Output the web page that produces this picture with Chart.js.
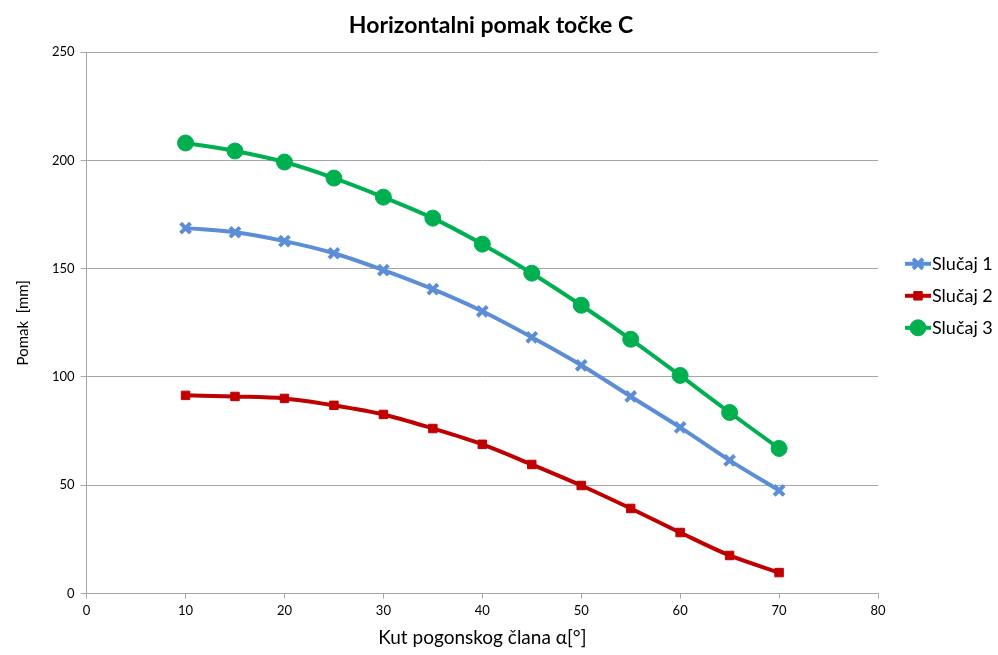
<!DOCTYPE html>
<html>
<head>
<meta charset="utf-8">
<script src="https://cdn.jsdelivr.net/npm/chart.js@4.4.1/dist/chart.umd.min.js"></script>
<style>
  html, body { margin: 0; padding: 0; background: #fff; }
  #wrap { width: 998px; height: 655px; }
</style>
</head>
<body>
<div id="wrap"><canvas id="myChart"></canvas></div>
<script>
// angle of the driving member (deg)
const kut = [10, 15, 20, 25, 30, 35, 40, 45, 50, 55, 60, 65, 70];
// horizontal displacement of point C (mm)
const slucaj1 = [168.7, 166.8, 162.7, 157.1, 149.3, 140.5, 130.3, 118.3, 105.4, 91.0, 76.7, 61.5, 47.6];
const slucaj2 = [91.5, 91.0, 90.1, 86.9, 82.7, 76.2, 68.9, 59.6, 49.9, 39.3, 28.2, 17.6, 9.7];
const slucaj3 = [208.0, 204.3, 199.2, 191.8, 183.0, 173.3, 161.3, 147.9, 133.1, 117.4, 100.7, 83.6, 67.0];
const seriesNames = ['Slučaj 1', 'Slučaj 2', 'Slučaj 3'];
const chartTitle = 'Horizontalni pomak točke C';

function pts(vals) {
    return kut.map((k, i) => ({x: k, y: vals[i]}));
}

const FONT = 'Lato, "Open Sans", sans-serif';

// title + excel-like legend (short line + marker + text) drawn by hand
const sideLegend = {
    id: 'sideLegend',
    afterDraw(chart) {
        const ctx = chart.ctx;
        const area = chart.chartArea;
        ctx.save();
        ctx.fillStyle = '#000';
        ctx.font = 'bold 23px ' + FONT;
        ctx.textAlign = 'center';
        ctx.textBaseline = 'middle';
        ctx.fillText(chartTitle, 491, 26);

        const x0 = area.right + 27;
        const yMid = (area.top + area.bottom) / 2;
        const gap = 32;
        const n = chart.data.datasets.length;
        ctx.textAlign = 'left';
        chart.data.datasets.forEach((ds, i) => {
            const y = yMid - 27 + (i - (n - 1) / 2) * gap;
            ctx.strokeStyle = ds.borderColor;
            ctx.lineWidth = ds.borderWidth;
            ctx.beginPath();
            ctx.moveTo(x0, y);
            ctx.lineTo(x0 + 26, y);
            ctx.stroke();
            ctx.fillStyle = ds.backgroundColor;
            ctx.lineWidth = ds.pointBorderWidth;
            Chart.helpers.drawPoint(ctx, {
                pointStyle: ds.pointStyle,
                radius: ds.pointRadius,
                borderWidth: ds.pointBorderWidth,
                rotation: 0
            }, x0 + 13, y);
            ctx.fillStyle = '#000';
            ctx.font = '18px ' + FONT;
            ctx.textBaseline = 'middle';
            ctx.fillText(ds.label, x0 + 27, y);
        });
        ctx.restore();
    }
};

const canvas = document.getElementById('myChart');
const myChart = new Chart(canvas, {
    type: 'line',
    data: {
        datasets: [{
            label: seriesNames[0],
            data: pts(slucaj1),
            borderColor: '#5B8ED6',
            backgroundColor: '#5B8ED6',
            pointStyle: 'crossRot',
            pointRadius: 7,
            pointBorderWidth: 4,
            borderWidth: 4,
            cubicInterpolationMode: 'monotone'
        }, {
            label: seriesNames[1],
            data: pts(slucaj2),
            borderColor: '#C00000',
            backgroundColor: '#C00000',
            pointStyle: 'rect',
            pointRadius: 6,
            pointBorderWidth: 1,
            borderWidth: 4,
            cubicInterpolationMode: 'monotone'
        }, {
            label: seriesNames[2],
            data: pts(slucaj3),
            borderColor: '#00B050',
            backgroundColor: '#00B050',
            pointStyle: 'circle',
            pointRadius: 8,
            pointBorderWidth: 1,
            borderWidth: 4,
            cubicInterpolationMode: 'monotone'
        }]
    },
    options: {
        responsive: true,
        maintainAspectRatio: false,
        animation: false,
        layout: { padding: { left: 10, right: 120, top: 52, bottom: 2 } },
        plugins: {
            title: { display: false },
            legend: { display: false },
            tooltip: { enabled: false }
        },
        scales: {
            x: {
                type: 'linear',
                min: 0,
                max: 80,
                ticks: { stepSize: 10, color: '#000', font: { family: FONT, size: 13 }, padding: 4 },
                grid: { drawOnChartArea: false, drawTicks: true, tickLength: 5, color: '#A6A6A6' },
                border: { color: '#A6A6A6', width: 1 },
                title: {
                    display: true,
                    text: 'Kut pogonskog člana α[°]',
                    color: '#000',
                    font: { family: FONT, size: 19 },
                    padding: { top: 4 }
                }
            },
            y: {
                min: 0,
                max: 250,
                ticks: { stepSize: 50, color: '#000', font: { family: FONT, size: 13 }, padding: 6 },
                grid: { color: '#A6A6A6', tickLength: 6, lineWidth: 1 },
                border: { color: '#A6A6A6', width: 1 },
                title: {
                    display: true,
                    text: 'Pomak  [mm]',
                    color: '#000',
                    font: { family: FONT, size: 15 },
                    padding: { bottom: 14 }
                }
            }
        }
    },
    plugins: [sideLegend]
});
myChart.update();
</script>
</body>
</html>
